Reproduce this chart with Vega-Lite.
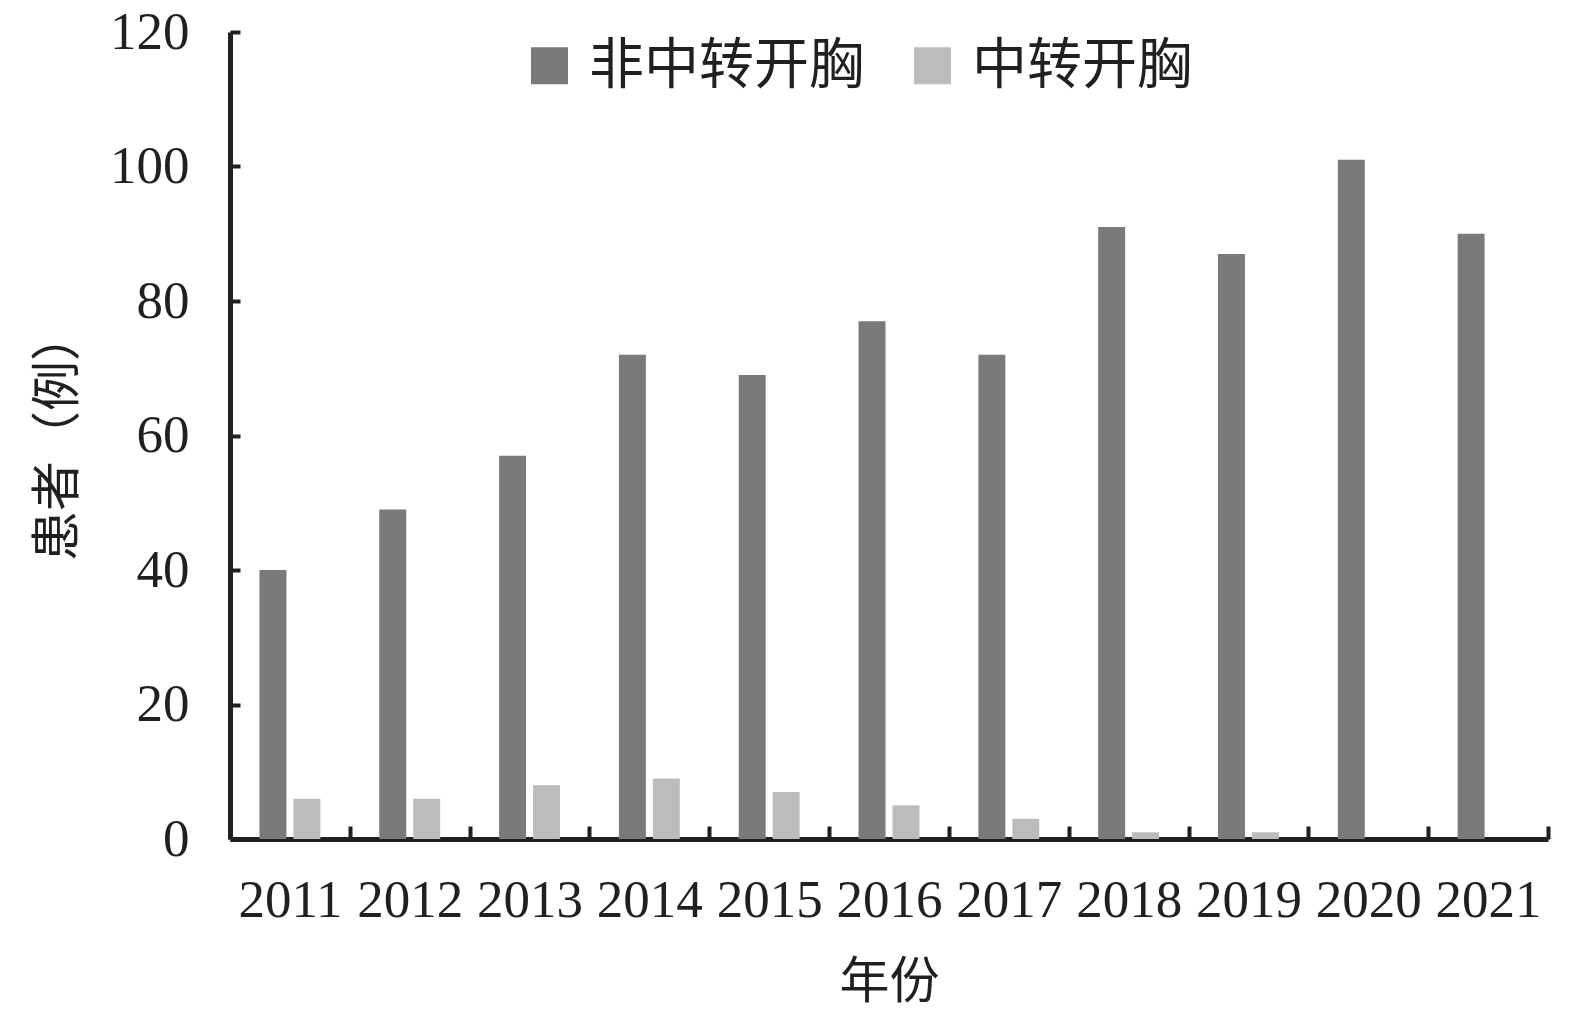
{
  "$schema": "https://vega.github.io/schema/vega-lite/v6.json",
  "autosize": "none",
  "width": 1318,
  "height": 807,
  "padding": {"left": 230, "top": 32, "right": 27, "bottom": 178},
  "background": "white",
  "data": {
    "values": [
      {"year": "2011", "type": "非中转开胸", "n": 40},
      {"year": "2011", "type": "中转开胸", "n": 6},
      {"year": "2012", "type": "非中转开胸", "n": 49},
      {"year": "2012", "type": "中转开胸", "n": 6},
      {"year": "2013", "type": "非中转开胸", "n": 57},
      {"year": "2013", "type": "中转开胸", "n": 8},
      {"year": "2014", "type": "非中转开胸", "n": 72},
      {"year": "2014", "type": "中转开胸", "n": 9},
      {"year": "2015", "type": "非中转开胸", "n": 69},
      {"year": "2015", "type": "中转开胸", "n": 7},
      {"year": "2016", "type": "非中转开胸", "n": 77},
      {"year": "2016", "type": "中转开胸", "n": 5},
      {"year": "2017", "type": "非中转开胸", "n": 72},
      {"year": "2017", "type": "中转开胸", "n": 3},
      {"year": "2018", "type": "非中转开胸", "n": 91},
      {"year": "2018", "type": "中转开胸", "n": 1},
      {"year": "2019", "type": "非中转开胸", "n": 87},
      {"year": "2019", "type": "中转开胸", "n": 1},
      {"year": "2020", "type": "非中转开胸", "n": 101},
      {"year": "2020", "type": "中转开胸", "n": 0},
      {"year": "2021", "type": "非中转开胸", "n": 90},
      {"year": "2021", "type": "中转开胸", "n": 0}
    ]
  },
  "config": {
    "view": {"stroke": null},
    "axis": {"grid": false}
  },
  "mark": {"type": "bar"},
  "encoding": {
    "x": {
      "field": "year",
      "type": "nominal",
      "scale": {"paddingInner": 0, "paddingOuter": 0},
      "axis": {
        "title": "年份",
        "titleFont": "Noto Sans CJK SC",
        "titleFontSize": 50,
        "titleFontWeight": "normal",
        "titleColor": "#231f20",
        "titlePadding": 30,
        "labelFont": "Liberation Serif",
        "labelFontSize": 53,
        "labelColor": "#231f20",
        "labelAngle": 0,
        "labelPadding": 48,
        "domainColor": "#231f20",
        "domainWidth": 5,
        "tickColor": "#231f20",
        "tickWidth": 4,
        "tickSize": -13,
        "tickBand": "extent"
      }
    },
    "xOffset": {
      "field": "type",
      "type": "nominal",
      "sort": ["非中转开胸", "中转开胸"],
      "scale": {"paddingInner": 0.206, "paddingOuter": 0.868}
    },
    "y": {
      "field": "n",
      "type": "quantitative",
      "scale": {"domain": [0, 120], "nice": false},
      "axis": {
        "title": "患者（例）",
        "titleFont": "Noto Sans CJK SC",
        "titleFontSize": 50,
        "titleFontWeight": "normal",
        "titleColor": "#231f20",
        "titlePadding": 26,
        "values": [0, 20, 40, 60, 80, 100, 120],
        "labelFont": "Liberation Serif",
        "labelFontSize": 53,
        "labelColor": "#231f20",
        "labelPadding": 51,
        "domainColor": "#231f20",
        "domainWidth": 5,
        "tickColor": "#231f20",
        "tickWidth": 4,
        "tickSize": -10
      }
    },
    "color": {
      "field": "type",
      "type": "nominal",
      "sort": ["非中转开胸", "中转开胸"],
      "scale": {"domain": ["非中转开胸", "中转开胸"], "range": ["#7b797a", "#bdbcbc"]},
      "legend": {
        "title": null,
        "orient": "none",
        "legendX": 292,
        "legendY": 6,
        "direction": "horizontal",
        "symbolType": "square",
        "symbolSize": 1369,
        "symbolStrokeWidth": 0,
        "labelFont": "Noto Sans CJK SC",
        "labelFontSize": 55,
        "labelColor": "#231f20",
        "labelOffset": 12,
        "columnPadding": 40,
        "labelLimit": 400
      }
    }
  }
}
